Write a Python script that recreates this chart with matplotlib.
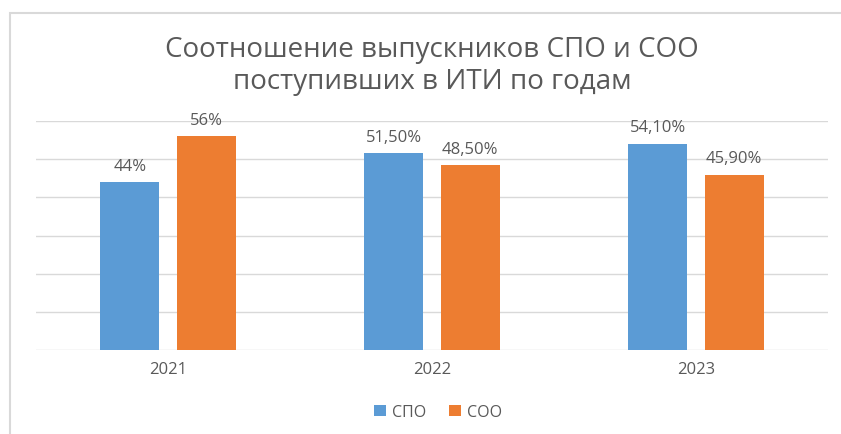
import matplotlib.pyplot as plt
import numpy as np
from matplotlib.patches import Rectangle

plt.rcParams['font.family'] = ['Open Sans', 'DejaVu Sans']

years = ['2021', '2022', '2023']
spo = [44.0, 51.5, 54.1]
soo = [56.0, 48.5, 45.9]
spo_labels = ['44%', '51,50%', '54,10%']
soo_labels = ['56%', '48,50%', '45,90%']

blue = '#5B9BD5'
orange = '#ED7D31'
text_col = '#595959'

fig = plt.figure(figsize=(8.41, 4.35), dpi=100)
ax = fig.add_axes([36 / 841, 84 / 435, 792 / 841, 229 / 435])

x = np.arange(len(years))
w = 0.2235
off = 0.144
b1 = ax.bar(x - off, spo, w, color=blue, label='СПО', zorder=3)
b2 = ax.bar(x + off, soo, w, color=orange, label='СОО', zorder=3)

for bars, labels in ((b1, spo_labels), (b2, soo_labels)):
    for b, t in zip(bars, labels):
        ax.annotate(t, (b.get_x() + b.get_width() / 2, b.get_height()),
                    xytext=(0, 6), textcoords='offset points',
                    ha='center', va='bottom', fontsize=12, color=text_col)

ax.set_xlim(-0.5, 2.5)
ax.set_ylim(0, 60)
ax.set_yticks(np.arange(0, 61, 10))
ax.set_yticklabels([])
ax.tick_params(axis='y', length=0)
ax.set_xticks(x)
ax.set_xticklabels(years, fontsize=12, color=text_col)
ax.tick_params(axis='x', length=0, pad=8)
ax.grid(axis='y', color='#D9D9D9', linewidth=1, zorder=0)
for s in ax.spines.values():
    s.set_visible(False)

fig.text(432 / 841, 1 - 66 / 435, 'Соотношение выпускников СПО и СОО\nпоступивших в ИТИ по годам',
         ha='center', va='center', fontsize=20, color=text_col, linespacing=1.15)

leg = fig.legend(handles=[b1, b2], loc='center', bbox_to_anchor=(438 / 841, 1 - 413 / 435),
                 ncol=2, frameon=False, fontsize=11.5, handlelength=0.75, handleheight=0.75,
                 handletextpad=0.4, columnspacing=1.4)
for t in leg.get_texts():
    t.set_color(text_col)

fig.patches.append(Rectangle((10 / 841, -0.1), 1.0, 1 - 14 / 435 + 0.1, transform=fig.transFigure,
                             fill=False, edgecolor='#D9D9D9', linewidth=1.5))

fig.savefig('out.png', dpi=100)
